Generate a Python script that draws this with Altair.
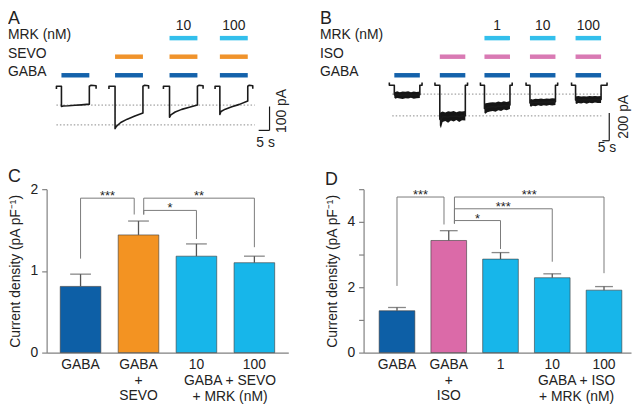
import altair as alt
import pandas as pd

FONT = "Liberation Sans"
AXC = "#808080"
INK = "#1a1a1a"
TXT = "#222222"

drug_names = ["GABA", "SEVO", "ISO", "MRK"]
drug_colors = ["#1462ab", "#f0932b", "#d97ab4", "#33bfec"]

# ---------------- Panel A data (time in s, current in pA) ----------------
a_rows = ["MRK (nM)", "SEVO", "GABA"]
a_gaba_on = [6.8, 31.4, 56.4, 79.5]
a_sevo_on = [31.4, 56.4, 79.5]
a_mrk_on = [56.4, 79.5]
a_mrk_conc = ["10", "100"]
a_apply = 12.8

a_trace_t = [
    [4.5, 4.5, 6.8, 6.8, 7.6, 10.0, 13.0, 16.0, 19.6, 19.6, 20.4, 22.7, 22.7],
    [28.6, 28.6, 31.4, 31.4, 32.0, 34.0, 37.0, 40.5, 44.2, 44.2, 45.0, 46.8, 46.8],
    [53.6, 53.6, 56.4, 56.4, 57.0, 59.0, 62.0, 65.5, 69.2, 69.2, 70.0, 71.8, 71.8],
    [77.3, 77.3, 79.5, 79.5, 80.0, 82.0, 85.0, 88.5, 92.3, 92.3, 93.0, 94.6, 94.6],
]
a_trace_pa = [
    [-12, 0, 0, -85, -83, -82, -80, -78, -75, 0, 4, 2, -10],
    [-12, 0, 0, -178, -168, -152, -138, -125, -112, 0, 4, 2, -10],
    [-12, 0, 0, -130, -120, -108, -97, -88, -79, 0, 4, 2, -10],
    [-12, 0, 0, -118, -106, -96, -86, -76, -62, 0, 4, 2, -10],
]
a_ref_pa = [-79, -162]
a_ref_span = [4.5, 95.5]
a_sb_t = [97.3, 102.3]      # 5 s
a_sb_pa = [-85, -185]       # 100 pA

# ---------------- Panel B data ----------------
b_rows = ["MRK (nM)", "ISO", "GABA"]
b_gaba_on = [53.6, 86.4, 118.6, 151.4, 184.3]
b_iso_on = [86.4, 118.6, 151.4, 184.3]
b_mrk_on = [118.6, 151.4, 184.3]
b_mrk_conc = ["1", "10", "100"]
b_apply = 18.4
b_trace_start = [50.0, 82.9, 115.7, 148.6, 181.4]
b_trace_end = [73.6, 106.4, 138.6, 171.4, 207.0]
b_band_dt = [0, 0.8, 2, 4, 6, 8, 10, 12, 14, 16, 18.4]
b_upper = [
    [-45, -48, -43, -50, -45, -47, -44, -50, -46, -48, -45],
    [-200, -195, -190, -196, -188, -192, -186, -194, -188, -190, -185],
    [-135, -130, -128, -125, -122, -125, -118, -122, -116, -120, -114],
    [-105, -100, -102, -98, -100, -96, -99, -95, -97, -94, -95],
    [-82, -80, -78, -82, -79, -81, -78, -80, -77, -80, -78],
]
b_lower = [
    [-90, -98, -92, -95, -100, -93, -96, -90, -97, -94, -92],
    [-290, -310, -265, -258, -270, -255, -262, -250, -265, -252, -255],
    [-200, -205, -195, -190, -185, -192, -180, -185, -175, -180, -172],
    [-150, -155, -148, -152, -145, -150, -144, -148, -142, -146, -143],
    [-130, -135, -128, -132, -126, -133, -127, -130, -125, -129, -128],
]
b_ref_pa = [-64, -221]
b_ref_span = [52.1, 202.9]
b_sb_t = [203.6, 208.6]     # 5 s
b_sb_pa = [-200, -400]      # 200 pA

# ---------------- Panel C data ----------------
c_labels = ["GABA", "GABA\n+\nSEVO", "10", "100"]
c_mean = [0.81, 1.44, 1.18, 1.10]
c_sem = [0.15, 0.17, 0.15, 0.08]
c_colors = ["#0d5fa6", "#f39322", "#17b6ea", "#17b6ea"]
c_group = "GABA + SEVO\n+ MRK (nM)"
c_group_x = 2.58
c_brk_xa = [0, 1.09, 1.09]
c_brk_xb = [0.926, 2, 3]
c_brk_top = [1.89, 1.74, 1.89]
c_brk_ya = [1.15, 1.69, 1.69]
c_brk_yb = [1.69, 1.39, 1.29]
c_brk_star = ["***", "*", "**"]

# ---------------- Panel D data ----------------
d_labels = ["GABA", "GABA\n+\nISO", "1", "10", "100"]
d_mean = [1.28, 3.43, 2.86, 2.29, 1.91]
d_sem = [0.10, 0.30, 0.20, 0.12, 0.11]
d_colors = ["#0d5fa6", "#db6aa8", "#17b6ea", "#17b6ea", "#17b6ea"]
d_group = "GABA + ISO\n+ MRK (nM)"
d_group_x = 3.47
d_brk_xa = [0, 1.11, 1.11, 1.11]
d_brk_xb = [0.908, 2, 3, 4]
d_brk_top = [4.76, 4.04, 4.40, 4.76]
d_brk_ya = [2.04, 3.95, 3.95, 3.95]
d_brk_yb = [3.92, 3.17, 2.78, 2.43]
d_brk_star = ["***", "*", "***", "***"]


def stim_frame(gaba_on, drug_name, drug_on, mrk_on, conc, dur):
    recs = []
    for on in gaba_on:
        recs.append({"row": "GABA", "drug": "GABA", "on": on, "off": on + dur, "conc": ""})
    for on in drug_on:
        recs.append({"row": drug_name, "drug": drug_name, "on": on, "off": on + dur, "conc": ""})
    for on, c in zip(mrk_on, conc):
        recs.append({"row": "MRK (nM)", "drug": "MRK", "on": on, "off": on + dur, "conc": c})
    return pd.DataFrame(recs)


def trace_panel(letter, rows, stim, traces, bands, ref_pa, ref_span, sb_t, sb_pa,
                sb_label, sb_label_pos, s_label_pos, xdom, ydom, width, height, label_x):
    xs = alt.Scale(domain=xdom, nice=False, zero=False)
    ys = alt.Scale(domain=ydom, nice=False, zero=False)
    rs = alt.Scale(type="point", domain=rows, range=[28.5, 66], padding=0)

    def X(f):
        return alt.X(f, type="quantitative", scale=xs, axis=None)

    def Y(f):
        return alt.Y(f, type="quantitative", scale=ys, axis=None)

    def R():
        return alt.Y("row:N", scale=rs, axis=None)

    ref_df = pd.DataFrame({"pa": ref_pa, "t0": [ref_span[0]] * len(ref_pa), "t1": [ref_span[1]] * len(ref_pa)})
    sb_df = pd.DataFrame({"t0": [sb_t[1], sb_t[0]], "t1": [sb_t[1], sb_t[1]],
                          "p0": [sb_pa[0], sb_pa[1]], "p1": [sb_pa[1], sb_pa[1]]})

    layers = []
    layers.append(alt.Chart(ref_df).mark_rule(color="#8a8a8a", strokeWidth=1, strokeDash=[1.5, 2])
                  .encode(x=X("t0"), x2="t1:Q", y=Y("pa")))
    if bands is not None:
        layers.append(alt.Chart(bands).mark_area(color="#151515")
                      .encode(x=X("t"), y=Y("lo"), y2="hi:Q", detail="trace:N"))
    layers.append(alt.Chart(traces).mark_line(color=INK, strokeWidth=1.6, strokeJoin="round")
                  .encode(x=X("t"), y=Y("pa"), detail="trace:N", order="k:Q"))
    layers.append(alt.Chart(stim).mark_rule(strokeWidth=4.5)
                  .encode(x=X("on"), x2="off:Q", y=R(),
                          color=alt.Color("drug:N", scale=alt.Scale(domain=drug_names, range=drug_colors),
                                          legend=None)))
    layers.append(alt.Chart(pd.DataFrame({"row": rows})).mark_text(align="left", baseline="middle", dy=-3,
                                                                   fontSize=14, color=TXT)
                  .encode(x=alt.value(label_x), y=R(), text="row:N"))
    layers.append(alt.Chart(stim[stim["conc"] != ""]).transform_calculate(mid="(datum.on + datum.off) / 2")
                  .mark_text(baseline="middle", dy=-12, fontSize=14, color=TXT)
                  .encode(x=X("mid"), y=R(), text="conc:N"))
    layers.append(alt.Chart(sb_df).mark_rule(color=INK, strokeWidth=1.2)
                  .encode(x=X("t0"), x2="t1:Q", y=Y("p0"), y2="p1:Q"))
    layers.append(alt.Chart(pd.DataFrame({"t": [sb_label_pos[0]], "p": [sb_label_pos[1]], "s": [sb_label]}))
                  .mark_text(angle=270, baseline="middle", fontSize=14, color=TXT)
                  .encode(x=X("t"), y=Y("p"), text="s:N"))
    layers.append(alt.Chart(pd.DataFrame({"t": [s_label_pos[0]], "p": [s_label_pos[1]], "s": ["5 s"]}))
                  .mark_text(baseline="middle", fontSize=14, color=TXT)
                  .encode(x=X("t"), y=Y("p"), text="s:N"))
    layers.append(alt.Chart(pd.DataFrame({"s": [letter]}))
                  .mark_text(align="left", baseline="top", fontSize=18, color=TXT)
                  .encode(x=alt.value(label_x), y=alt.value(0), text="s:N"))
    return alt.layer(*layers).resolve_scale(y="independent").properties(width=width, height=height)


# ---- build A frames ----
a_tr = pd.DataFrame([{"trace": i, "k": j, "t": t, "pa": p}
                     for i, (ts, ps) in enumerate(zip(a_trace_t, a_trace_pa))
                     for j, (t, p) in enumerate(zip(ts, ps))])
a_stim = stim_frame(a_gaba_on, "SEVO", a_sevo_on, a_mrk_on, a_mrk_conc, a_apply)

# ---- build B frames ----
b_tr_recs, b_band_recs = [], []
for i, (st, on, en) in enumerate(zip(b_trace_start, b_gaba_on, b_trace_end)):
    off = on + b_apply
    pts = [(st, 20), (st, 0), (on, 0)]
    for dt, u, l in zip(b_band_dt, b_upper[i], b_lower[i]):
        pts.append((on + dt, (u + l) / 2))
        b_band_recs.append({"trace": i, "t": on + dt, "hi": u, "lo": l})
    pts += [(off, 0), (en, 0), (en, 20)]
    for j, (t, p) in enumerate(pts):
        b_tr_recs.append({"trace": i, "k": j, "t": t, "pa": p})
b_tr = pd.DataFrame(b_tr_recs)
b_band = pd.DataFrame(b_band_recs)
b_stim = stim_frame(b_gaba_on, "ISO", b_iso_on, b_mrk_on, b_mrk_conc, b_apply)

# A: 2.2 px per s, 244 px wide.  B: 1.4 px per s, plot area aligned with panel D
A_W, B_W, TOP_H = 244, 270, 165
panel_a = trace_panel("A", a_rows, a_stim, a_tr, None, a_ref_pa, a_ref_span, a_sb_t, a_sb_pa,
                      "100 pA", (108.2, -104), (100.5, -237), [0, A_W / 2.2], [-365, 320], A_W, TOP_H, -39)
panel_b = trace_panel("B", b_rows, b_stim, b_tr, b_band, b_ref_pa, b_ref_span, b_sb_t, b_sb_pa,
                      "200 pA", (219.3, -228), (207, -450), [31.43, 31.43 + B_W / 1.4], [-635, 543],
                      B_W, TOP_H, -44)


def bar_panel(letter, labels, mean, sem, colors, group, group_x, bxa, bxb, btop, bya, byb, bstar,
              xdom, ydom, yvals, label_expr, width, height, bar_w, cap_w, letter_y, group_dy, group_lh):
    xs = alt.Scale(domain=xdom, nice=False, zero=False)
    ys = alt.Scale(domain=ydom, nice=False, zero=True)
    xaxis = alt.Axis(labels=False, ticks=False, title=None, grid=False, domainColor=AXC, domainWidth=1.2)
    yaxis = alt.Axis(values=yvals, labelExpr=label_expr, title="Current density (pA pF⁻¹)", grid=False,
                     tickSize=5, labelPadding=4, titlePadding=8, domainColor=AXC, tickColor=AXC,
                     domainWidth=1.2, tickWidth=1.2, labelFontSize=14, titleFontSize=14,
                     titleFontWeight="normal", labelColor=TXT, titleColor=TXT, labelFont=FONT, titleFont=FONT)

    def X(f):
        return alt.X(f, type="quantitative", scale=xs, axis=xaxis)

    def Y(f):
        return alt.Y(f, type="quantitative", scale=ys, axis=yaxis)

    df = pd.DataFrame({"i": list(range(len(labels))), "label": labels, "v": mean,
                       "top": [m + e for m, e in zip(mean, sem)], "col": colors})
    brk = pd.DataFrame({"xa": bxa, "xb": bxb, "top": btop, "ya": bya, "yb": byb, "star": bstar})
    grp = pd.DataFrame({"g": [group], "gx": [group_x]})

    layers = [
        alt.Chart(df).mark_bar(size=bar_w, stroke="#3a3a3a", strokeWidth=0.6)
        .encode(x=X("i"), y=Y("v"), color=alt.Color("col:N", scale=None)),
        alt.Chart(df).mark_rule(color="#555555", strokeWidth=1.3).encode(x=X("i"), y=Y("v"), y2="top:Q"),
        alt.Chart(df).mark_tick(color="#555555", orient="horizontal", size=cap_w, thickness=1.3)
        .encode(x=X("i"), y=Y("top")),
        alt.Chart(brk).mark_rule(color="#7a7a7a", strokeWidth=1).encode(x=X("xa"), x2="xb:Q", y=Y("top")),
        alt.Chart(brk).mark_rule(color="#7a7a7a", strokeWidth=1).encode(x=X("xa"), y=Y("top"), y2="ya:Q"),
        alt.Chart(brk).mark_rule(color="#7a7a7a", strokeWidth=1).encode(x=X("xb"), y=Y("top"), y2="yb:Q"),
        alt.Chart(brk).transform_calculate(mid="(datum.xa + datum.xb) / 2")
        .mark_text(fontSize=13, baseline="alphabetic", dy=2, color=TXT)
        .encode(x=X("mid"), y=Y("top"), text="star:N"),
        alt.Chart(df).mark_text(baseline="top", dy=6, fontSize=14, lineBreak="\n", lineHeight=15.5, color=TXT)
        .encode(x=X("i"), y=alt.value(height), text="label:N"),
        alt.Chart(grp).mark_text(baseline="top", dy=group_dy, fontSize=14, lineBreak="\n",
                                 lineHeight=group_lh, color=TXT)
        .encode(x=X("gx"), y=alt.value(height), text="g:N"),
        alt.Chart(pd.DataFrame({"s": [letter]})).mark_text(align="left", baseline="top", fontSize=18, color=TXT)
        .encode(x=alt.value(-39), y=alt.value(letter_y), text="s:N"),
    ]
    return alt.layer(*layers).properties(width=width, height=height)


BAR_H = 165
panel_c = bar_panel("C", c_labels, c_mean, c_sem, c_colors, c_group, c_group_x,
                    c_brk_xa, c_brk_xb, c_brk_top, c_brk_ya, c_brk_yb, c_brk_star,
                    [-0.5, 3.5], [0, 2], [0, 1, 2], "datum.value", 244, BAR_H, 41, 21, -21, 22, 15.5)
panel_d = bar_panel("D", d_labels, d_mean, d_sem, d_colors, d_group, d_group_x,
                    d_brk_xa, d_brk_xb, d_brk_top, d_brk_ya, d_brk_yb, d_brk_star,
                    [-0.55, -0.55 + 270 / 54.26], [0, 5], [0, 1, 2, 3, 4, 5],
                    "datum.value % 2 === 0 ? datum.label : ''", 270, BAR_H, 36, 18, -18, 22, 15.5)

chart = alt.concat(panel_a, panel_b, panel_c, panel_d, columns=2, bounds="flush",
                   spacing={"row": 16, "column": 76}).properties(padding=0)
chart = chart.configure_view(stroke=None).configure_text(font=FONT).configure_axis(labelFont=FONT, titleFont=FONT)

chart.save("out.html", embed_options={"renderer": "svg", "actions": False})
